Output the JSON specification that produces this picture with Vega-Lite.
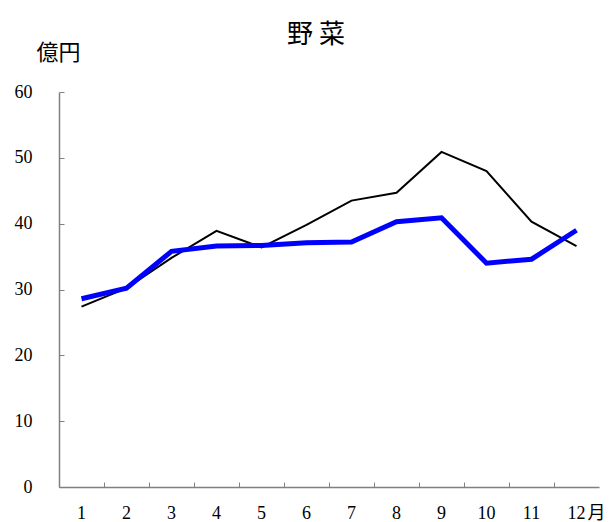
{
  "$schema": "https://vega.github.io/schema/vega-lite/v6.json",
  "autosize": {"type": "none"},
  "width": 540,
  "height": 395,
  "padding": {"left": 59, "top": 92, "right": 10, "bottom": 35},
  "background": "white",
  "title": {
    "text": "野 菜",
    "font": "Noto Sans CJK JP",
    "fontSize": 26,
    "fontWeight": "normal",
    "color": "black",
    "anchor": "middle",
    "baseline": "middle",
    "dx": -13,
    "dy": 32,
    "offset": 12
  },
  "config": {
    "view": {"stroke": null},
    "axis": {
      "labelFont": "Liberation Serif",
      "labelFontSize": 18,
      "labelColor": "black",
      "domainColor": "#808080",
      "tickColor": "#808080",
      "domainWidth": 1.5,
      "grid": false
    }
  },
  "data": {
    "values": [
      {"month": 1, "value": 27.4, "series": "前年"},
      {"month": 2, "value": 30.2, "series": "前年"},
      {"month": 3, "value": 34.8, "series": "前年"},
      {"month": 4, "value": 38.9, "series": "前年"},
      {"month": 5, "value": 36.4, "series": "前年"},
      {"month": 6, "value": 39.8, "series": "前年"},
      {"month": 7, "value": 43.5, "series": "前年"},
      {"month": 8, "value": 44.7, "series": "前年"},
      {"month": 9, "value": 50.9, "series": "前年"},
      {"month": 10, "value": 48.0, "series": "前年"},
      {"month": 11, "value": 40.3, "series": "前年"},
      {"month": 12, "value": 36.6, "series": "前年"},
      {"month": 1, "value": 28.6, "series": "本年"},
      {"month": 2, "value": 30.2, "series": "本年"},
      {"month": 3, "value": 35.8, "series": "本年"},
      {"month": 4, "value": 36.6, "series": "本年"},
      {"month": 5, "value": 36.7, "series": "本年"},
      {"month": 6, "value": 37.1, "series": "本年"},
      {"month": 7, "value": 37.2, "series": "本年"},
      {"month": 8, "value": 40.3, "series": "本年"},
      {"month": 9, "value": 40.9, "series": "本年"},
      {"month": 10, "value": 34.0, "series": "本年"},
      {"month": 11, "value": 34.6, "series": "本年"},
      {"month": 12, "value": 39.0, "series": "本年"}
    ]
  },
  "mark": {"type": "line", "strokeJoin": "miter"},
  "encoding": {
    "x": {
      "field": "month",
      "type": "ordinal",
      "bandPosition": 0.5,
      "scale": {"type": "band", "paddingInner": 0, "paddingOuter": 0},
      "axis": {
        "title": "月",
        "titleFont": "Noto Sans CJK JP",
        "titleFontSize": 18,
        "titleFontWeight": "normal",
        "titleColor": "black",
        "titleX": 537,
        "titleY": 26,
        "titleAlign": "center",
        "titleBaseline": "middle",
        "labelAngle": 0,
        "bandPosition": 0,
        "tickSize": -5,
        "labelPadding": 31,
        "labelBaseline": "middle"
      }
    },
    "y": {
      "field": "value",
      "type": "quantitative",
      "scale": {"domain": [0, 60], "nice": false},
      "axis": {
        "values": [0, 10, 20, 30, 40, 50, 60],
        "title": "億円",
        "titleFont": "Noto Sans CJK JP",
        "titleFontSize": 22,
        "titleFontWeight": "normal",
        "titleColor": "black",
        "titleAngle": 0,
        "titleX": -1,
        "titleY": -40,
        "titleAlign": "center",
        "titleBaseline": "middle",
        "tickSize": -5,
        "labelPadding": 32
      }
    },
    "color": {
      "field": "series",
      "type": "nominal",
      "scale": {"domain": ["前年", "本年"], "range": ["black", "#0000ff"]},
      "legend": null
    },
    "strokeWidth": {
      "field": "series",
      "type": "nominal",
      "scale": {"domain": ["前年", "本年"], "range": [2, 5]},
      "legend": null
    }
  }
}
